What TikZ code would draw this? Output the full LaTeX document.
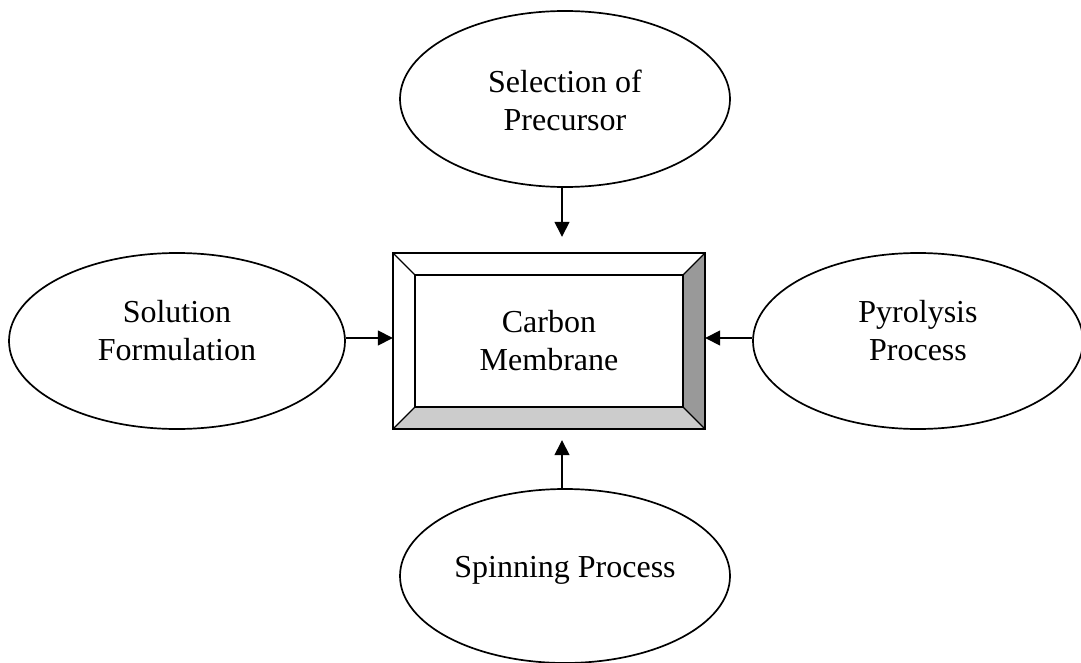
\documentclass[tikz,border=0pt]{standalone}
\usepackage{fontspec}
\setmainfont{Liberation Serif}
\usetikzlibrary{shapes.geometric,arrows.meta}
\definecolor{bevelDark}{HTML}{999999}
\definecolor{bevelLight}{HTML}{CCCCCC}
\begin{document}
\begin{tikzpicture}[x=1pt,y=-1pt,
  font=\fontsize{32}{38}\selectfont,
  oval/.style={ellipse,draw=black,line width=1.7pt,inner sep=0pt},
  lbl/.style={align=center,inner sep=0pt},
  arr/.style={line width=1.5pt,-{Triangle[length=15pt,width=15pt]}},
  frame/.style={draw=black,line width=2pt}]
\useasboundingbox (0,0) rectangle (1081,663);

% process ellipses
\node[oval,minimum width=330pt,minimum height=176pt] (sel) at (565,99) {};
\node[oval,minimum width=336pt,minimum height=176pt] (sol) at (177,341) {};
\node[oval,minimum width=330pt,minimum height=176pt] (pyr) at (918,341) {};
\node[oval,minimum width=330pt,minimum height=174pt] (spin) at (565,576) {};

\node[lbl] (selt) at ([yshift=-1pt]sel.center) {Selection of\\Precursor};
\node[lbl] (solt) at ([yshift=10pt]sol.center) {Solution\\Formulation};
\node[lbl] (pyrt) at ([yshift=10pt]pyr.center) {Pyrolysis\\Process};
\node[lbl] (spint) at ([yshift=6pt]spin.center) {Spinning Process};

% bevelled central box
\node[minimum width=312pt,minimum height=176pt,inner sep=0pt] (box) at (549,341) {};
\coordinate (itl) at ([shift={(22,22)}]box.north west);
\coordinate (itr) at ([shift={(-22,22)}]box.north east);
\coordinate (ibl) at ([shift={(22,-22)}]box.south west);
\coordinate (ibr) at ([shift={(-22,-22)}]box.south east);
\fill[bevelDark] (box.north east) -- (box.south east) -- (ibr) -- (itr) -- cycle;
\fill[bevelLight] (box.south west) -- (box.south east) -- (ibr) -- (ibl) -- cycle;
\draw[frame] (box.north west) rectangle (box.south east);
\draw[frame] (itl) rectangle (ibr);
\draw[line width=1.3pt] (box.north west) -- (itl)
  (box.north east) -- (itr)
  (box.south west) -- (ibl)
  (box.south east) -- (ibr);
\node[lbl] (boxt) at (box.center) {Carbon\\Membrane};

% connector end points
\coordinate (selout) at ([xshift=-3pt]sel.south);
\coordinate (spinout) at ([xshift=-3pt]spin.north);
\coordinate (solout) at ([yshift=3pt]sol.east);
\coordinate (pyrout) at ([yshift=3pt]pyr.west);
\coordinate (topin) at ([yshift=16pt]box.north);
\coordinate (botin) at ([yshift=-11pt]box.south);

% connectors into the box
\draw[arr] (selout) -- (topin -| selout);
\draw[arr] (spinout) -- (botin -| spinout);
\draw[arr] (solout) -- (box.west |- solout);
\draw[arr] (pyrout) -- (box.east |- pyrout);
\end{tikzpicture}
\end{document}
